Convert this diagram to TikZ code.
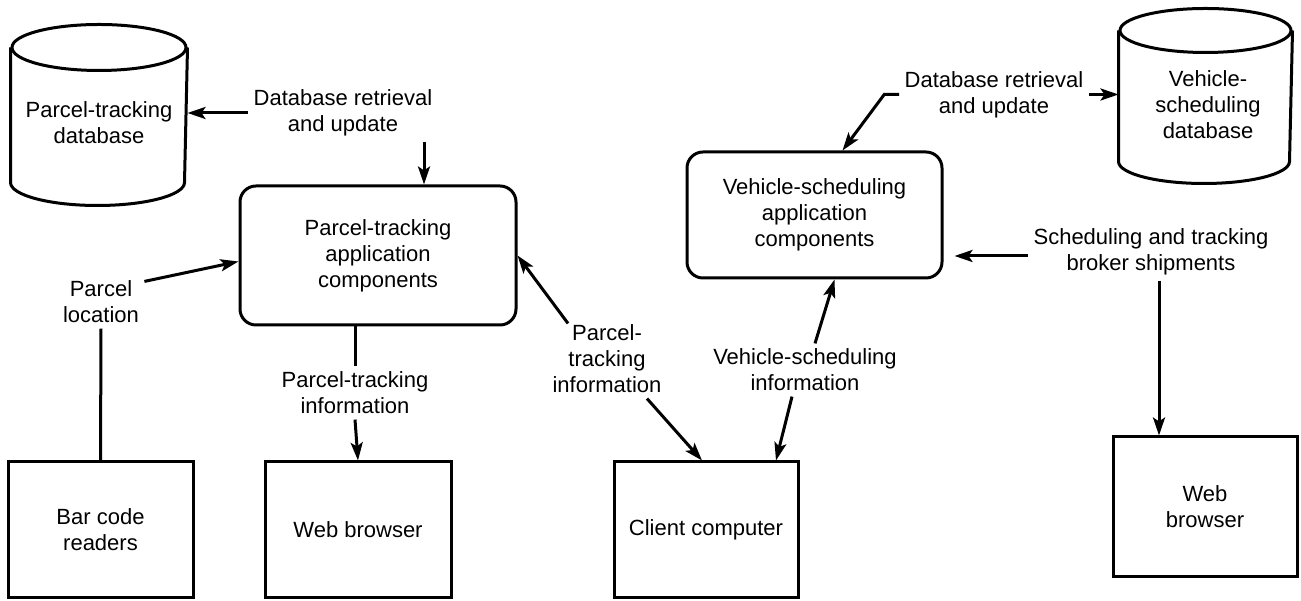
\documentclass[tikz,border=0pt]{standalone}
\usepackage{fontspec}
\setmainfont{Liberation Sans}
\usetikzlibrary{arrows.meta,positioning}
\tikzset{>={Stealth[length=18pt,width=12pt,inset=4pt]}}
\tikzset{app node/.style={draw,rounded corners=16pt,align=center,inner sep=0pt},
         end node/.style={draw,align=center,inner sep=0pt},
         db node/.style={inner sep=0pt},
         info node/.style={align=center,inner sep=4pt},
            }
% cylinder outline round a db node: name, x radius, y radius
\newcommand{\dbcyl}[3]{%
  \draw ([yshift=-#3pt]#1.north) ellipse [x radius=#2pt,y radius=#3pt];
  \draw ([yshift=-#3pt]#1.north west) -- ([yshift=#3pt]#1.south west)
    arc [start angle=180,end angle=360,x radius=#2pt,y radius=#3pt]
    -- ([yshift=-#3pt]#1.north east);}

\begin{document}
\begin{tikzpicture}[x=1pt,y=1pt,line width=3pt,font=\fontsize{22}{26}\selectfont]
    \useasboundingbox (0,0) rectangle (1301,601);

    % databases
    \node[db node,minimum width=174pt,minimum height=178pt] (ptdb) at (99,486) {};
    \node[info node] (ptdbtxt) at (99,478) {Parcel-tracking\\database};
    \dbcyl{ptdb}{87}{23}
    \node[db node,minimum width=171pt,minimum height=172pt] (vsdb) at (1205.5,505) {};
    \node[info node] (vsdbtxt) at (1208,496) {Vehicle-\\scheduling\\database};
    \dbcyl{vsdb}{85.5}{22}

    % application components
    \node[app node,minimum width=276pt,minimum height=139pt] (ptapp) at (378,345.5) {Parcel-tracking\\application\\components};
    \node[app node,minimum width=255pt,minimum height=126pt] (vsapp) at (814.5,386) {Vehicle-scheduling\\application\\components};

    % bottom row
    \node[end node,minimum width=185pt,minimum height=136pt] (bcr) at (100.5,71) {Bar code\\readers};
    \node[end node,minimum width=186pt,minimum height=136pt] (pwb) [right=69pt of bcr] {Web browser};
    \node[end node,minimum width=184pt,minimum height=136pt] (cc) [right=160pt of pwb] {Client computer};
    \node[end node,minimum width=184pt,minimum height=140pt] (vwb) at (1205,94) {Web\\browser};

    % labels
    \node[info node] (dbl1) at (343,488) {Database retrieval\\and update};
    \node[info node] (dbl2) at (994,506.5) {Database retrieval\\and update};
    \node[info node] (ploc) at (101,299) {Parcel\\location};
    \node[info node] (pti1) at (355,208) {Parcel-tracking\\information};
    \node[info node] (pti2) at (607,242) {Parcel-\\tracking\\information};
    \node[info node] (vsi) at (805,231) {Vehicle-scheduling\\information};
    \node[info node] (sched) at (1151,349) {Scheduling and tracking\\broker shipments};

    \path[->]
    (dbl1.west) edge (dbl1.west -| ptdb.east)
    ([xshift=81pt]dbl1.south) edge ([xshift=46pt]ptapp.north)
    ([yshift=-6pt]ploc.north east) edge ([yshift=-6pt]ptapp.west)
    (pti1.south) edge (pwb.north)
    ([xshift=-39pt,yshift=-4pt]pti2.north) edge (ptapp.east)
    ([xshift=40pt]pti2.south) edge ([xshift=-4pt]cc.north)
    ([xshift=10pt]vsi.north) edge ([xshift=20pt]vsapp.south)
    ([xshift=-13pt]vsi.south) edge ([xshift=70pt]cc.north)
    (dbl2.east) edge (dbl2.east -| vsdb.west)
    ([yshift=-4pt]sched.west) edge[shorten >=11pt] ([yshift=-4pt]sched.west -| vsapp.east)
    ([xshift=8pt]sched.south) edge ([xshift=-46pt]vwb.north);

    \draw[->] (dbl2.west) -- ++(-15,0) -- ([xshift=28pt]vsapp.north);
    \draw (ploc.south) -- (bcr.north);
    \draw ([xshift=-23pt]ptapp.south) -- (pti1.north);

\end{tikzpicture}
\end{document}
